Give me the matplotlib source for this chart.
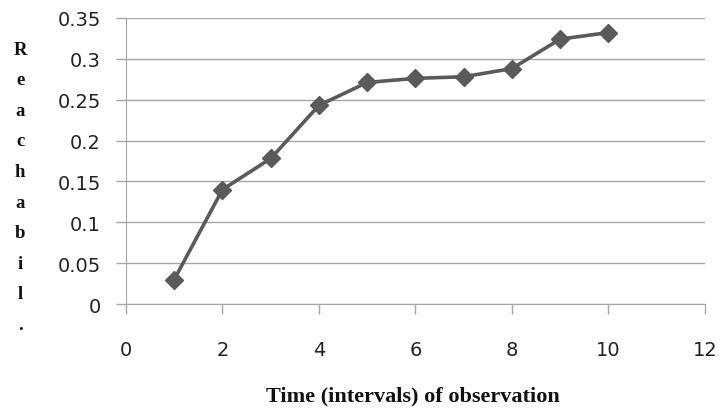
import matplotlib
matplotlib.use("Agg")
import matplotlib.pyplot as plt

# data
intervals = [1, 2, 3, 4, 5, 6, 7, 8, 9, 10]
reach = [0.03, 0.14, 0.178, 0.243, 0.271, 0.276, 0.278, 0.288, 0.324, 0.332]
yticks = [0, 0.05, 0.1, 0.15, 0.2, 0.25, 0.3, 0.35]
ytick_labels = ["0", "0.05", "0.1", "0.15", "0.2", "0.25", "0.3", "0.35"]
xticks = [0, 2, 4, 6, 8, 10, 12]

grey = "#a6a6a6"

fig = plt.figure(figsize=(7.2, 4.1), dpi=100)
ax = fig.add_axes([0.175, 0.256, 0.804, 0.698])

ax.plot(intervals, reach, color="#5a5a5a", lw=2.6, marker="D", ms=9.5,
        markerfacecolor="#5a5a5a", markeredgecolor="#5a5a5a", zorder=3)

ax.set_xlim(0, 12)
ax.set_ylim(0, 0.35)
ax.set_xticks(xticks)
ax.set_yticks(yticks)
ax.set_yticklabels(ytick_labels)
ax.yaxis.grid(True, color=grey, lw=1)
ax.set_axisbelow(True)

for s in ["top", "right"]:
    ax.spines[s].set_visible(False)
for s in ["left", "bottom"]:
    ax.spines[s].set_color(grey)
ax.tick_params(axis="both", colors=grey, length=7, width=1,
               labelsize=14, labelcolor="#222222")
ax.tick_params(axis="x", pad=19)
ax.tick_params(axis="y", pad=11)
for lab in ax.get_xticklabels() + ax.get_yticklabels():
    lab.set_family("DejaVu Sans")

fig.text(0.574, 0.032, "Time (intervals) of observation", ha="center",
         va="center", family="Liberation Serif", fontsize=16,
         fontweight="bold", color="#111111")
fig.text(0.028, 0.542, "R\ne\na\nc\nh\na\nb\ni\nl\n.", ha="center",
         va="center", multialignment="center", family="Liberation Serif",
         fontsize=13.5, fontweight="bold", linespacing=2.04, color="#111111")

fig.savefig("out.png", dpi=100)
